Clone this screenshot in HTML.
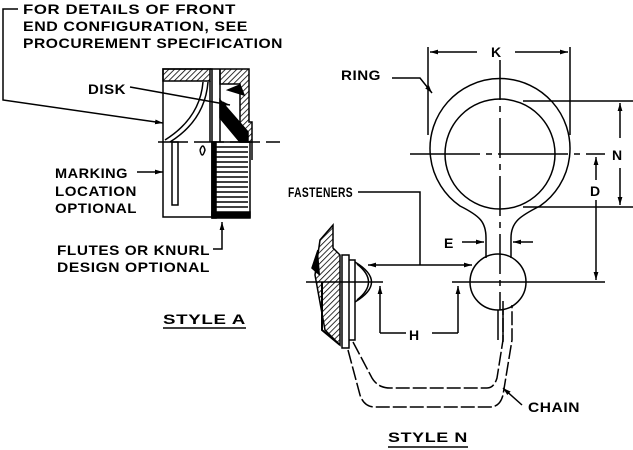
<!DOCTYPE html>
<html><head><meta charset="utf-8"><style>
html,body{margin:0;padding:0;background:#fff;}
svg{display:block}
text{font-family:"Liberation Sans",sans-serif;font-size:14px;fill:#000;font-weight:bold;}
</style></head><body>
<svg width="633" height="450" viewBox="0 0 633 450" xmlns="http://www.w3.org/2000/svg">
<defs>
<pattern id="h" width="4" height="4" patternUnits="userSpaceOnUse" patternTransform="rotate(45)"><line x1="0" y1="0" x2="0" y2="4" stroke="#000" stroke-width="1.6"/></pattern>
<marker id="a" viewBox="0 0 10 6" refX="10" refY="3" markerWidth="8" markerHeight="5" orient="auto-start-reverse" markerUnits="userSpaceOnUse"><path d="M0,0 L10,3 L0,6z" fill="#000"/></marker>
</defs>
<g stroke="#000" fill="none" stroke-width="1.5">
<!-- STYLE A -->
<path d="M18,9 H3 V100 L163,123" marker-end="url(#a)"/>
<rect x="163" y="69" width="49" height="148"/>
<rect x="163" y="69" width="47" height="12" fill="url(#h)"/>
<path d="M210,69 H249 V122 H252 V142 H240 V84 H220 V69z" fill="url(#h)"/>
<path d="M210,81 V142 M220,69 V142"/>
<path d="M208,82 Q205,120 170,142"/>
<path d="M203,82 Q200,118 165,140"/>
<path d="M220,100 L248,132 L248,142 L240,142 L220,118z" fill="#000"/>
<path d="M228,90 L240,85 L244,95z" fill="#000"/>
<path d="M130,87 L230,105" marker-end="url(#a)"/>
<path d="M158,142 H280" stroke-dasharray="30,6"/>
<rect x="172" y="142" width="6" height="63"/>
<rect x="212" y="142" width="38" height="75"/>
<g stroke-width="1.4">
<path d="M216,147H248M216,152H248M216,157H248M216,162H248M216,167H248M216,172H248M216,177H248M216,182H248M216,187H248M216,192H248M216,197H248M216,202H248M216,207H248"/>
</g>
<rect x="212" y="142" width="4" height="76" fill="#000"/>
<rect x="212" y="212" width="38" height="6" fill="#000"/>
<path d="M252,142 V160"/>
<path d="M200,150 q3,-8 5,0 q-3,10 -5,0"/>
<path d="M137,172 H163" marker-end="url(#a)"/>
<path d="M213,249 H222 V222" marker-end="url(#a)"/>
<path d="M163,328 H246"/>
<!-- STYLE N -->
<path d="M428,47 V135 M570,47 V135"/>
<path d="M477,52 H430" marker-end="url(#a)"/>
<path d="M515,52 H568" marker-end="url(#a)"/>
<path d="M392,78 H420 L432,93" marker-end="url(#a)"/>
<path d="M486,238 C486,222 480,216 460,206 A70,70 0 1 1 540,206 C520,216 511,222 511,238 V258"/>
<path d="M486,238 V258"/>
<circle cx="500" cy="154" r="55"/>
<circle cx="498" cy="282" r="28"/>
<path d="M500,60 V310" stroke-dasharray="40,6,6,6"/>
<path d="M410,154 H605" stroke-dasharray="70,6,6,6"/>
<path d="M306,282 H383 M452,282 H605" />
<path d="M523,101 H633 M523,207 H633"/>
<path d="M620,138 V103" marker-end="url(#a)"/>
<path d="M620,168 V205" marker-end="url(#a)"/>
<path d="M596,180 V157" marker-end="url(#a)"/>
<path d="M596,200 V280" marker-end="url(#a)"/>
<path d="M462,242 H484" marker-end="url(#a)"/>
<path d="M533,242 H513" marker-end="url(#a)"/>
<path d="M358,192 H420 V265"/>
<path d="M420,265 H368" marker-end="url(#a)"/>
<path d="M420,265 H472" marker-end="url(#a)"/>
<path d="M380,333 V286" marker-end="url(#a)"/>
<path d="M458,333 V286" marker-end="url(#a)"/>
<path d="M380,333 H406 M432,333 H458"/>
<!-- plug -->
<path d="M320,240 L333,225 V248 L340,255 V345 L325,330 L315,275z" fill="url(#h)"/>
<path d="M322,282 V330 L340,345" stroke-width="2"/>
<rect x="342" y="255" width="7" height="93"/>
<path d="M349,260 H355 V340 H349"/>
<path d="M357,264 Q380,282 357,300"/>
<path d="M355,262 Q388,282 355,302"/>
<path d="M318,250 L312,268 L320,275" fill="#000"/>
<!-- chain -->
<path d="M353,342 L372,378 Q378,388 390,388 H487 Q494,388 497,378 L503,340 V298" stroke-dasharray="14,3"/>
<path d="M348,350 L360,395 Q364,407 375,407 H490 Q500,407 503,395 L512,340 V305" stroke-dasharray="14,3"/>
<path d="M498,310 V340 M503,310 V342"/>
<path d="M522,405 L503,388" marker-end="url(#a)"/>
<path d="M388,447 H468"/>
</g>
<g font-size="14" letter-spacing="0.5">
<text x="23" y="14" textLength="213" lengthAdjust="spacingAndGlyphs">FOR DETAILS OF FRONT</text>
<text x="23" y="31" textLength="225" lengthAdjust="spacingAndGlyphs">END CONFIGURATION, SEE</text>
<text x="23" y="48" textLength="260" lengthAdjust="spacingAndGlyphs">PROCUREMENT SPECIFICATION</text>
<text x="88" y="94" textLength="38" lengthAdjust="spacingAndGlyphs">DISK</text>
<text x="55" y="178" textLength="73" lengthAdjust="spacingAndGlyphs">MARKING</text>
<text x="55" y="196" textLength="82" lengthAdjust="spacingAndGlyphs">LOCATION</text>
<text x="55" y="213" textLength="82" lengthAdjust="spacingAndGlyphs">OPTIONAL</text>
<text x="57" y="255" textLength="153" lengthAdjust="spacingAndGlyphs">FLUTES OR KNURL</text>
<text x="57" y="272" textLength="153" lengthAdjust="spacingAndGlyphs">DESIGN OPTIONAL</text>
<text x="163" y="324" textLength="83" lengthAdjust="spacingAndGlyphs">STYLE A</text>
<text x="341" y="80" textLength="40" lengthAdjust="spacingAndGlyphs">RING</text>
<text x="491" y="57" textLength="11">K</text>
<text x="612" y="160" textLength="11">N</text>
<text x="590" y="196" textLength="11">D</text>
<text x="444" y="248" textLength="11">E</text>
<text x="288" y="197" textLength="65" lengthAdjust="spacingAndGlyphs">FASTENERS</text>
<text x="409" y="340" textLength="11">H</text>
<text x="528" y="412" textLength="52" lengthAdjust="spacingAndGlyphs">CHAIN</text>
<text x="388" y="442" textLength="80" lengthAdjust="spacingAndGlyphs">STYLE N</text>
</g>
</svg>
</body></html>
